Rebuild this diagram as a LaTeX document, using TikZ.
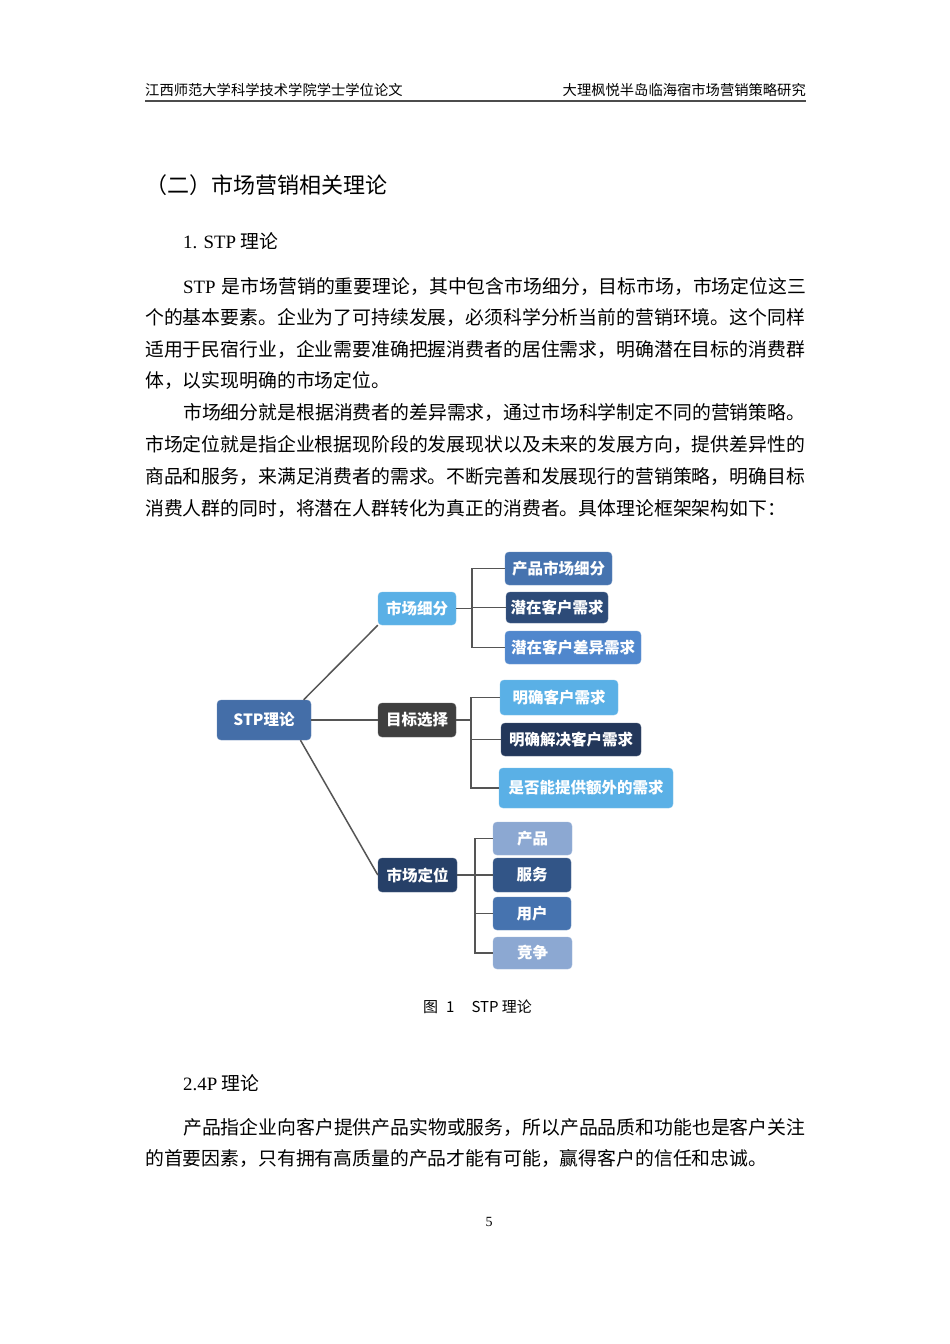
\documentclass[tikz,border=0pt]{standalone}
\usepackage{fontspec}
\setmainfont{Liberation Serif}
\newfontfamily\cjk{Noto Sans CJK SC}
\XeTeXlinebreaklocale "zh"
\XeTeXlinebreakskip=0pt plus 1pt
\usetikzlibrary{positioning}

\definecolor{stpblue}{HTML}{446EA8}
\definecolor{skyblue}{HTML}{5AB0E6}
\definecolor{darkgray}{HTML}{3F3F3F}
\definecolor{navy}{HTML}{264068}
\definecolor{midblue}{HTML}{4673AF}
\definecolor{deepblue}{HTML}{2D4B78}
\definecolor{brightblue}{HTML}{5087CD}
\definecolor{nightblue}{HTML}{23375A}
\definecolor{paleblue}{HTML}{8CA8D2}
\definecolor{steelblue}{HTML}{325587}
\definecolor{linegray}{HTML}{555555}

\newcommand\fullline[2]{\makebox[#1pt][s]{#2}}

\begin{document}
\begin{tikzpicture}[x=1pt, y=-1pt,
    box/.style={rounded corners=4pt, fill=#1, draw=#1!80!white, text=white,
        inner sep=0pt, font=\cjk\bfseries\fontsize{15.5}{18}\selectfont},
    link/.style={draw=linegray, line width=1.5pt},
    body/.style={anchor=base west, inner sep=0pt, font=\cjk\fontsize{18.85}{22}\selectfont}
]
    \fill[white] (0,0) rectangle (950,1344);
    \useasboundingbox (0,0) rectangle (950,1344);

    % page head
    \node[anchor=base west, inner sep=0pt, font=\cjk\fontsize{14.3}{16}\selectfont] (headl) at (145,95) {江西师范大学科学技术学院学士学位论文};
    \node[anchor=base east, inner sep=0pt, font=\cjk\fontsize{14.3}{16}\selectfont] (headr) at (806,95) {大理枫悦半岛临海宿市场营销策略研究};
    \coordinate (rulel) at (145,101);
    \coordinate (ruler) at (806,101);
    \draw[line width=1.5pt, black!70] (rulel) -- (ruler);

    % headings and text
    \node[anchor=base west, inner sep=0pt, font=\cjk\fontsize{22}{26}\selectfont] (title) at (145,193) {（二）市场营销相关理论};
    \node[body] (stphead) at (183,248) {{\rmfamily 1. STP} 理论};

    \node[body] (p1a) at (183,293) {\fullline{623}{{\rmfamily STP} 是市场营销的重要理论，其中包含市场细分，目标市场，市场定位这三}};
    \node[body] (p1b) at (145,324.5) {\fullline{661}{个的基本要素。企业为了可持续发展，必须科学分析当前的营销环境。这个同样}};
    \node[body] (p1c) at (145,356) {\fullline{661}{适用于民宿行业，企业需要准确把握消费者的居住需求，明确潜在目标的消费群}};
    \node[body] (p1d) at (145,387.5) {体，以实现明确的市场定位。};

    \node[body] (p2a) at (183,419.5) {\fullline{623}{市场细分就是根据消费者的差异需求，通过市场科学制定不同的营销策略。}};
    \node[body] (p2b) at (145,451) {\fullline{661}{市场定位就是指企业根据现阶段的发展现状以及未来的发展方向，提供差异性的}};
    \node[body] (p2c) at (145,483) {\fullline{661}{商品和服务，来满足消费者的需求。不断完善和发展现行的营销策略，明确目标}};
    \node[body] (p2d) at (145,515) {消费人群的同时，将潜在人群转化为真正的消费者。具体理论框架架构如下：};

    % STP diagram
    \node[box=stpblue, minimum width=94pt, minimum height=40pt] (stp) at (264,720) {STP理论};

    \node[box=skyblue, minimum width=78pt, minimum height=33pt] (seg) at (417,608.5) {市场细分};
    \node[box=darkgray, minimum width=78pt, minimum height=34pt] (tgt) at (417,720) {目标选择};
    \node[box=navy, minimum width=79pt, minimum height=34pt] (pos) at (417.5,875) {市场定位};

    \node[box=midblue, minimum width=107pt, minimum height=33pt] (s1) at (558.5,568.5) {产品市场细分};
    \node[box=deepblue, minimum width=102pt, minimum height=31pt] (s2) at (557,607.5) {潜在客户需求};
    \node[box=brightblue, minimum width=136pt, minimum height=33pt] (s3) at (573,647.5) {潜在客户差异需求};

    \node[box=skyblue, minimum width=118pt, minimum height=35pt] (t1) at (559,697.5) {明确客户需求};
    \node[box=nightblue, minimum width=140pt, minimum height=33pt] (t2) at (571,739.5) {明确解决客户需求};
    \node[box=skyblue, minimum width=174pt, minimum height=40pt] (t3) at (586,788) {是否能提供额外的需求};

    \node[box=paleblue, minimum width=79pt, minimum height=33pt] (p1) at (532.5,838.5) {产品};
    \node[box=steelblue, minimum width=78pt, minimum height=34pt] (p2) at (532,875) {服务};
    \node[box=midblue, minimum width=78pt, minimum height=33pt] (p3) at (532,913.5) {用户};
    \node[box=paleblue, minimum width=79pt, minimum height=32pt] (p4) at (532.5,953) {竞争};

    \draw[link] (stp.27) -- (seg.south west);
    \draw[link] (stp.east) -- (tgt.west);
    \draw[link] (stp.-29) -- (pos.west);

    \coordinate (segfork) at (472,608.5);
    \draw[link] (seg.east) -- (segfork);
    \draw[link] (s1.west) -| (segfork) |- (s3.west);
    \draw[link] (segfork) |- (s2.west);

    \coordinate (tgtfork) at (471,720);
    \draw[link] (tgt.west -| tgt.east) -- (tgtfork);
    \draw[link] (t1.west) -| (tgtfork) |- (t3.west);
    \draw[link] (tgtfork) |- (t2.west);

    \coordinate (posfork) at (475,875);
    \draw[link] (pos.east) -- (posfork);
    \draw[link] (p1.west) -| (posfork) |- (p4.west);
    \draw[link] (posfork) |- (p2.west);
    \draw[link] (posfork) |- (p3.west);

    \node[anchor=base west, inner sep=0pt, font=\cjk\fontsize{15}{18}\selectfont] (caption) at (423,1012.5) {图\hspace{8pt}1\hspace{17pt}STP 理论};

    % 4P
    \node[body] (fourp) at (183,1090) {{\rmfamily 2.4P} 理论};
    \node[body] (p3a) at (183,1134) {\fullline{623}{产品指企业向客户提供产品实物或服务，所以产品品质和功能也是客户关注}};
    \node[body] (p3b) at (145,1165) {的首要因素，只有拥有高质量的产品才能有可能，赢得客户的信任和忠诚。};

    \node[anchor=base, inner sep=0pt, font=\fontsize{14}{16}\selectfont] (pageno) at (489,1226) {5};
\end{tikzpicture}
\end{document}
